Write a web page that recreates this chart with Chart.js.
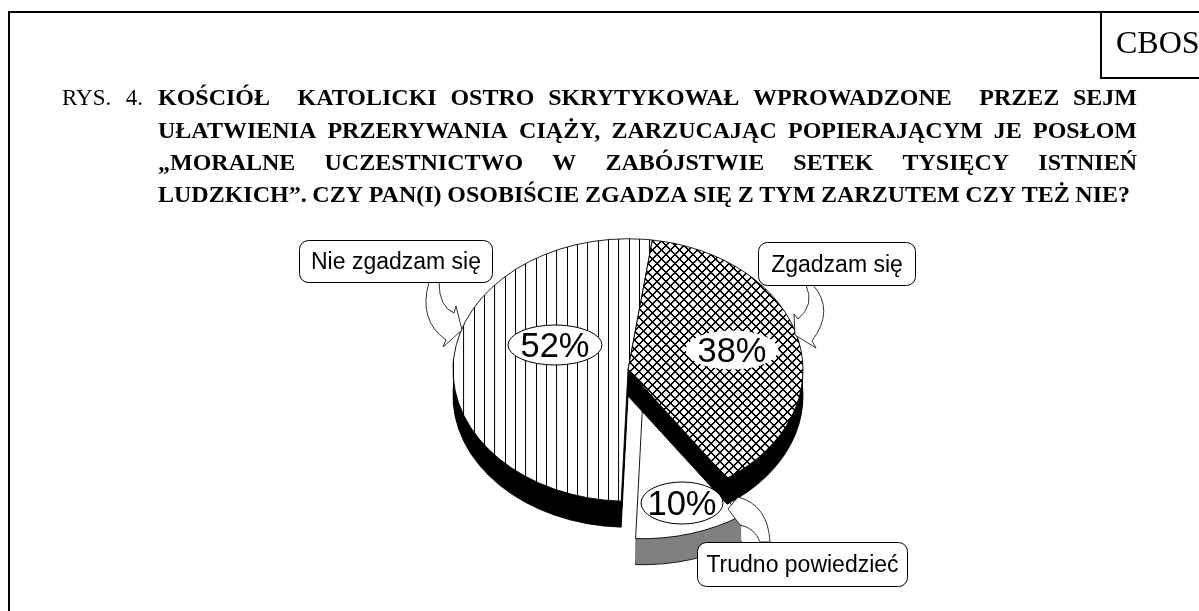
<!DOCTYPE html>
<html lang="pl">
<head>
<meta charset="utf-8">
<title>CBOS RYS. 4</title>
<script src="https://cdn.jsdelivr.net/npm/chart.js@4"></script>
<style>
  body { margin: 0; background: #fff; }
  canvas { display: block; }
</style>
</head>
<body>
<canvas id="pieChart" width="1199" height="611"></canvas>
<script>
const categories = ['Zgadzam się', 'Trudno powiedzieć', 'Nie zgadzam się'];
const values = [38.2, 10.2, 51.6];
const valueLabels = ['38%', '10%', '52%'];

const titlePrefix = 'RYS. 4.';
const titleLines = [
    'KOŚCIÓŁ  KATOLICKI OSTRO SKRYTYKOWAŁ WPROWADZONE  PRZEZ SEJM',
    'UŁATWIENIA PRZERYWANIA CIĄŻY, ZARZUCAJĄC POPIERAJĄCYM JE POSŁOM',
    '„MORALNE UCZESTNICTWO W ZABÓJSTWIE SETEK TYSIĘCY ISTNIEŃ',
    'LUDZKICH”. CZY PAN(I) OSOBIŚCIE ZGADZA SIĘ Z TYM ZARZUTEM CZY TEŻ NIE?'
];

// pie look: flattened by SQUASH, with DEPTH px of side wall
const SQUASH = 0.75;
const DEPTH = 26;
const PULL = [0, 52, 0];
const SIDE_COLORS = ['#000', '#808080', '#000'];
const DRAW_ORDER = [1, 2, 0];

function unsquash(pattern, sx) {
    pattern.setTransform(new DOMMatrix().scale(sx, sx / SQUASH));
    return pattern;
}

function stripes(ctx) {
    const c = document.createElement('canvas');
    c.width = 31; c.height = 3;
    const g = c.getContext('2d');
    g.fillStyle = '#fff';
    g.fillRect(0, 0, 31, 3);
    g.fillStyle = '#000';
    g.fillRect(26, 0, 3, 3);
    return unsquash(ctx.createPattern(c, 'repeat'), 1 / 3);
}

function crossHatch(ctx) {
    const n = 36;
    const c = document.createElement('canvas');
    c.width = n; c.height = n;
    const g = c.getContext('2d');
    g.fillStyle = '#fff';
    g.fillRect(0, 0, n, n);
    g.strokeStyle = '#000';
    g.lineWidth = 7;
    g.beginPath();
    for (let i = -n; i <= n; i += n) {
        g.moveTo(i, 0); g.lineTo(i + n, n);
        g.moveTo(i + n, 0); g.lineTo(i, n);
    }
    g.stroke();
    return unsquash(ctx.createPattern(c, 'repeat'), 1 / 4);
}

function drawArcAt(chart, arc, i, dy, override) {
    const ctx = chart.ctx;
    const mid = (arc.startAngle + arc.endAngle) / 2;
    const orig = arc.options;
    ctx.save();
    ctx.translate(arc.x, arc.y + dy);
    ctx.scale(1, SQUASH);
    ctx.translate(-arc.x, -arc.y);
    ctx.translate(Math.cos(mid) * PULL[i], Math.sin(mid) * PULL[i]);
    arc.options = { ...orig, ...override };
    arc.draw(ctx);
    arc.options = orig;
    ctx.restore();
}

function justified(ctx, text, x, y, right) {
    const parts = text.split(' ');
    const natural = ctx.measureText(text).width;
    const extra = (right - x - natural) / (parts.length - 1);
    const space = ctx.measureText(' ').width + extra;
    parts.forEach(word => {
        if (word) ctx.fillText(word, x, y);
        x += ctx.measureText(word).width + space;
    });
}

function bubble(ctx, text, x, y, w, h) {
    ctx.beginPath();
    ctx.roundRect(x, y, w, h, 9);
    ctx.fillStyle = '#fff';
    ctx.fill();
    ctx.lineWidth = 1;
    ctx.strokeStyle = '#000';
    ctx.stroke();
    ctx.fillStyle = '#000';
    ctx.font = '23px "Liberation Sans"';
    ctx.textAlign = 'center';
    ctx.fillText(text, x + w / 2, y + h / 2 + 7.5);
    ctx.textAlign = 'left';
}

// callout arrow outline: 2 numbers = straight, 4 numbers = curve
function arrow(ctx, steps) {
    ctx.beginPath();
    steps.forEach(s => {
        if (s.length === 2) ctx.lineTo(s[0], s[1]);
        else ctx.quadraticCurveTo(s[0], s[1], s[2], s[3]);
    });
    ctx.closePath();
    ctx.fillStyle = '#fff';
    ctx.fill();
    ctx.lineWidth = 0.8;
    ctx.strokeStyle = '#000';
    ctx.stroke();
}

function valueBadge(ctx, text, x, y, rx, ry, edge) {
    ctx.beginPath();
    ctx.ellipse(x, y, rx, ry, 0, 0, Math.PI * 2);
    ctx.fillStyle = '#fff';
    ctx.fill();
    ctx.lineWidth = 1;
    ctx.strokeStyle = edge;
    ctx.stroke();
    ctx.fillStyle = '#000';
    ctx.font = '34.5px "Liberation Sans"';
    ctx.textAlign = 'center';
    ctx.fillText(text, x, y + 12);
    ctx.textAlign = 'left';
}

const piePlugin = {
    id: 'flatPie',
    beforeDatasetsDraw(chart) {
        const arcs = chart.getDatasetMeta(0).data;
        DRAW_ORDER.forEach(i => {
            const arc = arcs[i];
            for (let d = DEPTH; d > 0; d--) {
                drawArcAt(chart, arc, i, d, {
                    backgroundColor: SIDE_COLORS[i],
                    borderColor: '#000',
                    borderWidth: d === DEPTH ? 1 : 0
                });
            }
            drawArcAt(chart, arc, i, 0, {});
        });
        return false;
    },
    afterDraw(chart) {
        const ctx = chart.ctx;

        // frame
        ctx.fillStyle = '#000';
        ctx.fillRect(8, 11, 1191, 2);
        ctx.fillRect(8, 11, 2, 600);
        ctx.fillRect(1100, 11, 2, 67);
        ctx.fillRect(1100, 77, 99, 2);

        ctx.font = '32px "Liberation Serif"';
        ctx.fillText('CBOS', 1116, 53);

        ctx.font = '23px "Liberation Serif"';
        justified(ctx, titlePrefix, 62, 105, 143);
        ctx.font = 'bold 24px "Liberation Serif"';
        const baselines = [105, 138, 170, 202];
        titleLines.forEach((line, i) => {
            justified(ctx, line, 158, baselines[i], i < 3 ? 1137 : 1130);
        });

        // arrows go under their bubbles
        arrow(ctx, [[429, 282], [418, 320, 446, 340], [443, 347], [462, 330], [456, 306], [454, 313], [439, 307, 439, 282]]);
        arrow(ctx, [[806, 285], [815, 305, 798, 319], [794, 314], [795, 335], [816, 348], [812, 341], [835, 310, 813, 285]]);
        arrow(ctx, [[770, 542], [768, 505, 738, 497], [728, 509], [740, 525], [755, 528, 760, 542]]);

        bubble(ctx, categories[2], 299.5, 240.5, 193, 42);
        bubble(ctx, categories[0], 758.5, 242.5, 157, 43);
        bubble(ctx, categories[1], 697.5, 542.5, 210, 44);

        valueBadge(ctx, valueLabels[2], 555, 345, 47, 20, '#000');
        valueBadge(ctx, valueLabels[0], 732, 350, 46, 19, '#fff');
        valueBadge(ctx, valueLabels[1], 682, 503, 41, 21, '#000');
    }
};

const ctx = document.getElementById('pieChart').getContext('2d');

const pieChart = new Chart(ctx, {
    type: 'pie',
    data: {
        labels: categories,
        datasets: [{
            data: values,
            backgroundColor: [crossHatch(ctx), '#fff', stripes(ctx)],
            borderColor: '#000',
            borderWidth: 1
        }]
    },
    options: {
        responsive: false,
        animation: false,
        rotation: 8,
        radius: 175,
        layout: { padding: { left: 57, top: 129 } },
        plugins: {
            legend: { display: false },
            tooltip: { enabled: false },
            title: { display: false }
        }
    },
    plugins: [piePlugin]
});
</script>
</body>
</html>
